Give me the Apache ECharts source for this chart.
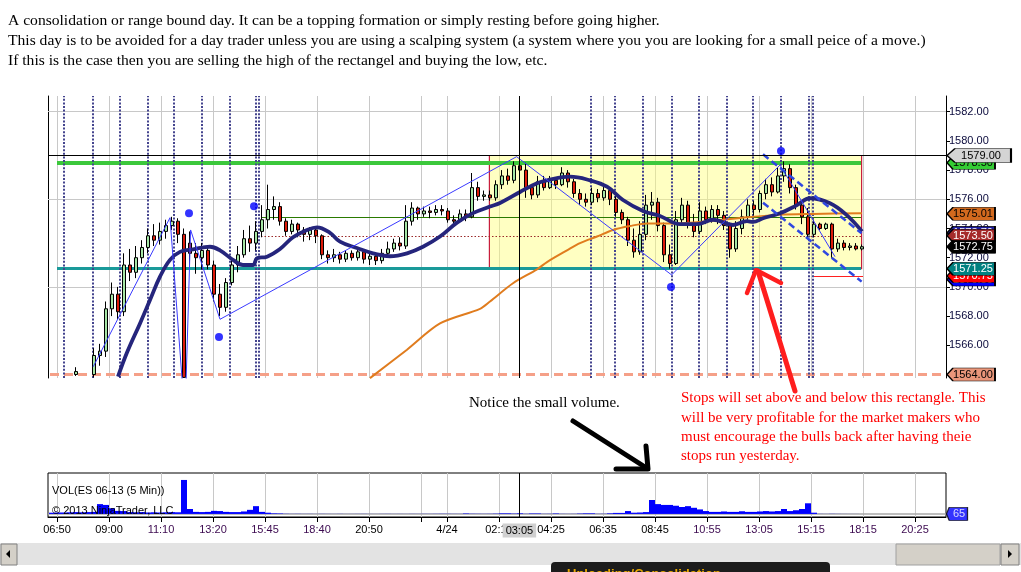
<!DOCTYPE html>
<html><head><meta charset="utf-8">
<script src="https://cdn.jsdelivr.net/npm/echarts@6/dist/echarts.min.js"></script>
<style>html,body{margin:0;padding:0;background:#fff}#c{width:1021px;height:572px}</style>
</head><body><div id="c"></div>
<script>
// ---- data (x unit = 5-minute bar index) ----
const barStart = 2, barStep = 3;
const candles = [
null,null,null,null,[1564.0,1564.2,1563.9,1564.5],null,null,[1564.0,1565.3,1563.8,1565.8],
[1565.3,1565.6,1564.6,1566.1],[1565.6,1568.5,1565.2,1569.0],[1568.5,1569.5,1568.0,1570.3],[1569.5,1568.3,1567.8,1570.0],
[1568.3,1571.5,1568.0,1572.3],[1571.5,1571.0,1570.4,1572.6],[1571.0,1572.0,1570.6,1572.8],[1572.0,1572.7,1571.6,1573.2],
[1572.7,1573.5,1572.3,1574.0],[1573.5,1573.2,1572.8,1574.3],[1573.2,1573.8,1572.9,1574.4],[1573.8,1574.2,1573.3,1574.6],
[1574.2,1574.5,1573.9,1574.8],[1574.5,1573.6,1573.0,1574.7],[1573.6,1563.8,1563.76,1574.0],[1573.0,1572.3,1571.4,1573.8],
[1572.3,1572.0,1570.9,1573.0],[1572.0,1572.5,1571.2,1573.0],[1572.5,1571.5,1571.2,1572.8],[1571.5,1569.5,1569.0,1571.8],
[1569.5,1568.6,1568.0,1570.2],[1568.6,1570.3,1568.3,1570.6],[1570.3,1571.5,1570.1,1572.0],[1571.5,1572.2,1571.0,1572.8],
[1572.2,1573.3,1572.0,1573.9],[1573.3,1573.0,1572.4,1574.2],[1573.0,1573.8,1572.5,1574.5],[1573.8,1574.6,1573.4,1575.6],
[1574.6,1575.3,1574.0,1577.0],[1575.3,1575.5,1574.6,1576.2],[1575.5,1574.5,1574.2,1575.8],[1574.5,1573.8,1573.5,1574.7],
[1573.8,1574.3,1573.6,1574.6],[1574.3,1573.9,1573.4,1574.4],[1573.9,1573.6,1573.1,1574.1],[1573.6,1573.9,1573.2,1574.1],
[1573.9,1573.5,1573.0,1574.1],[1573.5,1572.2,1571.9,1573.6],[1572.2,1572.0,1571.6,1572.5],[1572.0,1572.2,1571.7,1572.6],
[1572.2,1571.9,1571.6,1572.4],[1571.9,1572.3,1571.7,1572.5],[1572.3,1572.0,1571.8,1572.5],[1572.0,1572.4,1571.8,1572.6],
[1572.4,1571.9,1571.6,1572.5],[1571.9,1572.1,1571.5,1572.4],[1572.1,1571.8,1571.5,1572.3],[1571.8,1572.3,1571.6,1572.6],
[1572.3,1572.6,1572.0,1573.1],[1572.6,1573.0,1572.4,1573.3],[1573.0,1572.8,1572.5,1573.4],[1572.8,1574.5,1572.6,1575.6],
[1574.5,1575.4,1574.2,1575.8],[1575.4,1575.0,1574.6,1575.5],[1575.0,1575.2,1574.8,1575.5],[1575.2,1575.1,1574.7,1575.5],
[1575.1,1575.3,1574.9,1575.6],[1575.3,1575.2,1574.9,1575.6],[1575.2,1574.6,1574.4,1575.4],[1574.6,1574.5,1574.3,1574.9],
[1574.5,1575.0,1574.4,1575.3],[1575.0,1574.8,1574.5,1575.3],[1574.8,1576.8,1574.7,1577.8],[1576.8,1576.2,1575.9,1577.2],
[1576.2,1576.3,1575.9,1576.6],[1576.3,1576.1,1575.9,1576.6],[1576.1,1577.0,1575.9,1577.3],[1577.0,1577.6,1576.7,1578.0],
[1577.6,1577.3,1577.0,1578.1],[1577.3,1578.3,1577.1,1578.6],[1578.3,1578.0,1577.2,1578.9],[1578.0,1576.8,1576.1,1578.5],
[1576.8,1576.3,1576.0,1577.0],[1576.3,1577.2,1576.1,1577.6],[1577.2,1576.8,1576.6,1577.6],[1576.8,1577.3,1576.7,1577.6],
[1577.3,1577.0,1576.7,1577.5],[1577.0,1577.8,1576.9,1578.2],[1577.8,1577.2,1576.8,1578.0],[1577.2,1576.4,1576.1,1577.4],
[1576.4,1576.0,1575.6,1576.7],[1576.0,1575.8,1575.5,1576.4],[1575.8,1576.4,1575.6,1576.8],[1576.4,1576.1,1575.8,1576.7],
[1576.1,1576.6,1575.9,1577.1],[1576.6,1576.0,1575.6,1576.8],[1576.0,1575.1,1574.8,1576.2],[1575.1,1574.6,1574.3,1575.3],
[1574.6,1573.2,1572.8,1574.8],[1573.2,1572.4,1572.0,1574.0],[1572.4,1573.6,1572.2,1574.5],[1573.6,1575.6,1573.2,1576.3],
[1575.6,1575.8,1574.6,1576.5],[1575.8,1574.2,1573.8,1576.1],[1574.2,1572.2,1571.7,1574.4],[1572.2,1571.6,1571.25,1572.9],
[1571.6,1574.6,1571.5,1575.2],[1574.6,1575.6,1574.2,1576.1],[1575.6,1574.4,1574.0,1575.9],[1574.4,1573.8,1573.4,1575.0],
[1573.8,1575.2,1573.6,1575.8],[1575.2,1574.6,1574.3,1575.5],[1574.6,1575.3,1574.4,1575.6],[1575.3,1574.9,1574.3,1575.6],
[1574.9,1574.2,1573.9,1575.2],[1574.2,1572.6,1572.0,1574.4],[1572.6,1574.0,1572.4,1574.5],[1574.0,1574.8,1573.6,1575.3],
[1574.8,1575.6,1574.6,1576.0],[1575.6,1575.3,1574.9,1575.9],[1575.3,1576.4,1575.1,1576.6],[1576.4,1577.0,1576.0,1577.4],
[1577.0,1576.5,1576.2,1577.5],[1576.5,1577.6,1576.4,1578.2],[1577.6,1578.1,1577.2,1578.6],[1578.1,1576.8,1576.4,1578.4],
[1576.8,1575.6,1575.3,1577.0],[1575.6,1574.8,1574.3,1575.9],[1574.8,1573.6,1573.3,1575.4],[1573.6,1574.3,1573.4,1574.6],
[1574.3,1574.0,1573.9,1574.4],[1574.0,1574.3,1573.9,1574.4],[1574.3,1572.6,1572.0,1574.4],[1572.6,1573.0,1572.4,1573.3],
[1573.0,1572.7,1572.5,1573.2],[1572.7,1572.8,1572.5,1573.0],[1572.8,1572.6,1572.5,1573.0],[1572.6,1572.75,1572.5,1572.9]
];
const volumes = [
3000,3500,3500,4000,4500,4000,4500,5000,24000,22000,14000,7500,7000,4500,4000,4500,3500,4000,3500,4000,4500,4000,
83000,12000,5000,4500,5000,7500,7000,5000,4500,4500,6000,10000,19000,5000,3000,1500,1200,
500,300,400,250,300,200,350,250,200,300,150,200,250,300,200,150,250,300,200,250,200,300,250,350,300,400,500,450,350,300,
1200,600,500,400,500,800,1500,1500,900,1500,500,1200,1200,400,500,1200,400,300,400,1000,1500,1500,400,500,1500,2500,2500,
7000,3000,3500,4500,34000,24000,22000,22000,20000,17000,19000,15000,11000,7000,5000,5000,6000,5000,5000,6500,5000,5000,
6000,7000,6000,7000,12000,7000,9000,12000,26000,3000,300,200,400,250,150,120,100,65
];
const tickPos = [4.5,30.5,56.5,82.5,108.5,134.5,160.5,186.5,199.5,225.5,251.5,277.5,303.5,329.5,355.5,381.5,407.5,433.5];
const tickLabels = ['06:50','09:00','11:10','13:20','15:45','18:40','20:50','','4/24','02:10','04:25','06:35','08:45','10:55','13:05','15:15','18:15','20:25'];
const priceTicks = [1564,1566,1568,1570,1572,1574,1576,1578,1580,1582];
const priceGridLines = [1570,1576,1582];
const navyMA = [[35,1563.85],[39.5,1565.5],[46,1567.5],[51,1569.1],[56,1570.7],[61,1571.85],[66,1572.4],[72.5,1572.57],[81,1572.75],[86,1572.5],[92.5,1571.85],[97.5,1571.5],[102.5,1571.5],[104.5,1571.96],[109.5,1572.07],[116,1572.6],[122.5,1573.4],[129.5,1573.9],[134.5,1574.08],[141,1573.7],[146,1573.1],[154.5,1572.66],[162.5,1572.3],[171,1572.1],[179.5,1572.3],[187.5,1572.75],[196,1573.45],[204.5,1574.4],[212.5,1575.05],[221,1575.5],[226,1575.75],[236,1576.5],[244.5,1577.1],[249.5,1577.3],[261,1577.55],[271,1577.3],[279.5,1576.86],[287.5,1575.95],[297.5,1575.2],[306,1574.86],[316,1574.3],[324.5,1574.3],[332.5,1574.6],[342.5,1574.24],[349.5,1574.5],[352.5,1574.45],[357.5,1574.7],[366,1575.04],[374.5,1575.6],[381,1576.07],[391,1575.73],[399.5,1574.9],[407,1573.8]];
const orangeMA = [[161,1563.75],[179.5,1565.7],[196,1567.5],[216,1568.5],[221,1569.0],[232.5,1570.25],[244.5,1571.2],[249.5,1571.7],[259.5,1572.5],[266,1573.0],[274.5,1573.45],[282.5,1573.9],[291,1574.17],[299.5,1574.35],[316,1574.35],[332.5,1574.53],[349.5,1574.77],[366,1574.95],[382.5,1575.0],[407,1575.04]];
const zigzag = [[22.6,1564.53],[61,1574.74],[68.5,1561.0],[71.3,1573.9],[86,1567.78],[234.3,1578.92],[311.8,1570.82],[366,1578.35],[393.5,1572.07]];
const swingDots = [[70.5,1575.05],[103,1575.53],[85.5,1566.57],[366.5,1579.3],[311.5,1569.99]];
const channelUpper = [[357.5,1579.08],[406.8,1573.67]];
const channelLower = [[357.5,1575.77],[406.8,1570.36]];
const markerTimes = [8,22.2,35.7,49.7,62.7,76.8,90.8,104,105.2,271.5,283.5,297.5,312,325.5,339.5,352.5,366.5,380.5,382.5];
const rangeBox = [220.7,406.8,1579.0,1571.25];
const crossTime = 235.7, crossPrice = 1579.0, crossLabel = '03:05';
const tagValues = [1578.50,1579.00,1575.01,1573.70,1573.50,1572.75,1570.50,1570.75,1571.25,1564.00];
const lastVolume = 65;

// ---- styles ----
const tagStyles = [
 {fill:'#33cc33',text:'#000'},{fill:'#d4d4d4',text:'#000',wide:true},{fill:'#d2691e',text:'#000'},
 {fill:'#1c1c9c',text:'#fff'},{fill:'#a52a2a',text:'#fff'},{fill:'#000',text:'#fff'},
 {fill:'#0000ff',text:'#fff'},{fill:'#ff0000',text:'#fff'},{fill:'#008080',text:'#fff'},{fill:'#e9967a',text:'#000'}
];
const purple = new Set(['11:10','13:20','15:45','18:40','10:55','13:05','15:15','18:15','20:25']);
const labelPos = tickPos.filter((p,i)=>tickLabels[i]!=='');
const labelFor = v => { const i = tickPos.findIndex(p=>Math.abs(p-v)<0.01); return i>=0?tickLabels[i]:''; };
const XMAX = 449, YMIN = 1563.76, YMAX = 1583.075;
const tagPath = 'path://M0,6L6,0L48,0L48,12L6,12Z';
const sans = '"Liberation Sans", Arial, sans-serif';
const serif = '"Liberation Serif", "Times New Roman", serif';

const candleData = [];
candles.forEach((c,i)=>{ if(c) candleData.push([barStart+barStep*i, c[0], c[1], c[2], c[3]]); });
const volData = volumes.map((v,i)=>[barStart+barStep*i, v]);

const seg = (a,b,y,style)=>[{coord:[a,y],lineStyle:style},{coord:[b,y]}];

const series = [];
series.push({type:'line', xAxisIndex:0, yAxisIndex:0, data:[], silent:true,
  markLine:{silent:true, symbol:['none','none'], z:1, label:{show:false}, animation:false,
    lineStyle:{color:'#c8c8c8', width:1, type:'solid'},
    data:[...tickPos.map(k=>({xAxis:k})), ...priceGridLines.map(p=>({yAxis:p}))]}});
series.push({type:'line', xAxisIndex:0, yAxisIndex:0, data:[], silent:true,
  markArea:{silent:true, z:2, animation:false,
    itemStyle:{color:'rgba(255,255,120,0.45)', borderColor:'#c81e3c', borderWidth:1.2},
    data:[[{coord:[rangeBox[0],rangeBox[2]]},{coord:[rangeBox[1],rangeBox[3]]}]]}});
series.push({type:'line', xAxisIndex:0, yAxisIndex:0, data:[], silent:true,
  markLine:{silent:true, symbol:['none','none'], z:3, label:{show:false}, animation:false,
    data:[
      seg(4.5,406.5,1578.5,{color:'#3cc83c',width:4,type:'solid'}),
      seg(4.5,406.5,1571.25,{color:'#1a9a9a',width:3,type:'solid'}),
      seg(1,449,1564.0,{color:'#f5a088',width:3,type:[9,5]}),
      seg(106.5,406.5,1574.75,{color:'#2a7a00',width:1.2,type:'solid'}),
      seg(106.5,406.5,1573.5,{color:'#9a2a2a',width:1,type:[1.5,2]}),
      seg(382.5,407.5,1570.75,{color:'#ff2020',width:1.2,type:'solid'})
    ]}});
series.push({type:'line', xAxisIndex:0, yAxisIndex:0, data:[], silent:true,
  markLine:{silent:true, symbol:['none','none'], z:4, label:{show:false}, animation:false,
    lineStyle:{color:'#44448e', width:2, type:[2,1.6]},
    data:markerTimes.map(k=>({xAxis:k}))}});
series.push({type:'candlestick', xAxisIndex:0, yAxisIndex:0, data:candleData, barWidth:4, z:5, clip:true,
  itemStyle:{color:'#a6e6a6', color0:'#dd1a0a', borderColor:'#000', borderColor0:'#000', borderWidth:1}});
series.push({type:'line', xAxisIndex:0, yAxisIndex:0, data:orangeMA, symbol:'none', smooth:0.3, z:6, clip:true,
  lineStyle:{color:'#e07c1e', width:2}});
series.push({type:'line', xAxisIndex:0, yAxisIndex:0, data:navyMA, symbol:'none', smooth:0.4, z:6, clip:true,
  lineStyle:{color:'#25257c', width:3.8}});
series.push({type:'line', xAxisIndex:0, yAxisIndex:0, data:zigzag, symbol:'none', z:7, clip:true,
  lineStyle:{color:'#3a3aff', width:1}});
[channelUpper, channelLower].forEach(d=>series.push({type:'line', xAxisIndex:0, yAxisIndex:0, data:d, symbol:'none', z:7,
  lineStyle:{color:'#3048e0', width:2.5, type:[7,4]}}));
series.push({type:'scatter', xAxisIndex:0, yAxisIndex:0, data:swingDots, symbolSize:8, z:8,
  itemStyle:{color:'#0000ff'}});
series.push({type:'line', xAxisIndex:0, yAxisIndex:0, data:[], silent:true,
  markLine:{silent:true, symbol:['none','none'], z:9, label:{show:false}, animation:false,
    lineStyle:{color:'#000', width:1, type:'solid'},
    data:[{xAxis:crossTime},{yAxis:crossPrice}]}});
tagValues.forEach((v,i)=>{
  const st = tagStyles[i];
  series.push({type:'scatter', xAxisIndex:0, yAxisIndex:0, data:[[XMAX, v]], clip:false, silent:true, z:20+i,
    symbol:tagPath, symbolKeepAspect:false,
    symbolSize: st.wide?[64,14]:[48,13], symbolOffset: st.wide?[33,0]:[25,0],
    itemStyle:{color:st.fill, borderColor:'#000', borderWidth:1, opacity:1},
    label:{show:true, position:'inside', offset:[2,0], formatter:p=>p.value[1].toFixed(2),
      color:st.text, fontSize:11, fontFamily:sans}});
});
series.push({type:'bar', xAxisIndex:1, yAxisIndex:2, data:volData, barWidth:6, z:5,
  itemStyle:{color:'#0000ff'},
  markLine:{silent:true, symbol:['none','none'], z:1, label:{show:false}, animation:false,
    lineStyle:{color:'#c8c8c8', width:1, type:'solid'},
    data:[...tickPos.map(k=>({xAxis:k})), {yAxis:0, lineStyle:{color:'#a8a8a8', width:1.5}}]},
  markPoint:{silent:true, symbol:'rect', symbolSize:[1,1], itemStyle:{color:'rgba(0,0,0,0)'}, z:12, animation:false,
    label:{show:true, position:'bottom', distance:6, formatter:crossLabel, backgroundColor:'#d0d0d0',
      padding:[2,3,1,3], color:'#000', fontSize:11, fontFamily:sans},
    data:[{coord:[crossTime, -7500]}]}});
series.push({type:'line', xAxisIndex:1, yAxisIndex:2, data:[], silent:true,
  markLine:{silent:true, symbol:['none','none'], z:9, label:{show:false}, animation:false,
    lineStyle:{color:'#000', width:1, type:'solid'}, data:[{xAxis:crossTime}]}});
series.push({type:'scatter', xAxisIndex:1, yAxisIndex:2, data:[[XMAX, lastVolume]], clip:false, silent:true, z:30,
  symbol:tagPath, symbolKeepAspect:false, symbolSize:[21,13], symbolOffset:[11,0],
  itemStyle:{color:'#0000ff', borderColor:'#000', borderWidth:1},
  label:{show:true, position:'inside', offset:[2,0], formatter:p=>String(p.value[1]), color:'#fff', fontSize:11, fontFamily:sans}});

const T = (x,y,text,font,fill,z)=>({type:'text', x, y, z:z||100, silent:true,
  style:{text, font, fill, verticalAlign:'middle', align:'left'}});
const L = (pts,stroke,w)=>({type:'polyline', z:100, silent:true, shape:{points:pts},
  style:{stroke, lineWidth:w, fill:null, lineCap:'round', lineJoin:'round'}});

const graphic = [
  T(8,21,'A consolidation or range bound day. It can be a topping formation or simply resting before going higher.','15.6px '+serif,'#000'),
  T(8,41,'This day is to be avoided for a day trader unless you are using a scalping system (a system where you you are looking for a small peice of a move.)','15.6px '+serif,'#000'),
  T(8,61,'If this is the case then you are selling the high of the rectangel and buying the low, etc.','15.6px '+serif,'#000'),
  T(469,403.5,'Notice the small volume.','15px '+serif,'#000'),
  T(681,398,'Stops will set above and below this rectangle. This','15px '+serif,'#ff0000'),
  T(681,418,'will be very profitable for the market makers who','15px '+serif,'#ff0000'),
  T(681,437,'must encourage the bulls back after having theie','15px '+serif,'#ff0000'),
  T(681,456,'stops run yesterday.','15px '+serif,'#ff0000'),
  T(52,491,'VOL(ES 06-13 (5 Min))','11px '+sans,'#000',0),
  T(52,511,'\u00a9 2013 NinjaTrader, LLC','11px '+sans,'#000',0),
  L([[573,421],[645,467]],'#000',5),
  L([[616,469],[648,469],[646,446]],'#000',5),
  L([[795,391],[758,271]],'#ff1e1e',5),
  L([[747,293],[756,270],[781,283]],'#ff1e1e',4.5),
  {type:'rect', z:90, silent:true, shape:{x:0,y:543,width:1021,height:22}, style:{fill:'#e3e3e3'}},
  {type:'rect', z:91, silent:true, shape:{x:1,y:544,width:16,height:21}, style:{fill:'#d4d0c8', stroke:'#808080', lineWidth:1}},
  {type:'polygon', z:92, silent:true, shape:{points:[[6,554],[10,550],[10,558]]}, style:{fill:'#000'}},
  {type:'rect', z:91, silent:true, shape:{x:896,y:544,width:104,height:21}, style:{fill:'#d4d0c8', stroke:'#a0a0a0', lineWidth:1}},
  {type:'rect', z:91, silent:true, shape:{x:1001,y:544,width:18,height:21}, style:{fill:'#d4d0c8', stroke:'#808080', lineWidth:1}},
  {type:'polygon', z:92, silent:true, shape:{points:[[1008,550],[1012,554],[1008,558]]}, style:{fill:'#000'}},
  {type:'rect', z:95, silent:true, shape:{x:551,y:562,width:279,height:14,r:[4,4,0,0]}, style:{fill:'#1c1c1c'}},
  {type:'text', z:96, silent:true, x:567, y:568, style:{text:'Unloading/Consolidation', font:'bold 13px '+sans, fill:'#e8a800', verticalAlign:'top'}}
];

const option = {
  animation:false, backgroundColor:'#fff',
  grid:[
    {left:48, top:96, width:898, height:282},
    {left:48, top:473, width:898, height:44, show:true, borderColor:'#000', borderWidth:1}
  ],
  xAxis:[
    {gridIndex:0, type:'value', min:0, max:XMAX, show:false},
    {gridIndex:1, type:'value', min:0, max:XMAX,
      axisLine:{show:true, onZero:false, lineStyle:{color:'#000'}},
      axisTick:{show:true, customValues:tickPos, length:5, lineStyle:{color:'#000'}},
      axisLabel:{customValues:labelPos, formatter:v=>labelFor(v), margin:7, fontSize:11, fontFamily:sans,
        color:v=>purple.has(labelFor(v))?'#3c0a50':'#000'},
      splitLine:{show:false}}
  ],
  yAxis:[
    {gridIndex:0, type:'value', position:'right', min:YMIN, max:YMAX,
      axisLine:{show:true, onZero:false, lineStyle:{color:'#000'}},
      axisTick:{show:true, customValues:priceTicks, length:4, lineStyle:{color:'#000'}},
      axisLabel:{customValues:priceTicks, formatter:v=>v.toFixed(2), margin:3, fontSize:11, fontFamily:sans, color:'#0a0a3c'},
      splitLine:{show:false}},
    {gridIndex:0, type:'value', position:'left', min:YMIN, max:YMAX,
      axisLine:{show:true, onZero:false, lineStyle:{color:'#000'}},
      axisTick:{show:false}, axisLabel:{show:false}, splitLine:{show:false}},
    {gridIndex:1, type:'value', position:'right', min:-7500, max:100000,
      axisLine:{show:false}, axisTick:{show:false}, axisLabel:{show:false}, splitLine:{show:false}}
  ],
  series, graphic
};
const chart = echarts.init(document.getElementById('c'));
chart.setOption(option);
</script></body></html>
